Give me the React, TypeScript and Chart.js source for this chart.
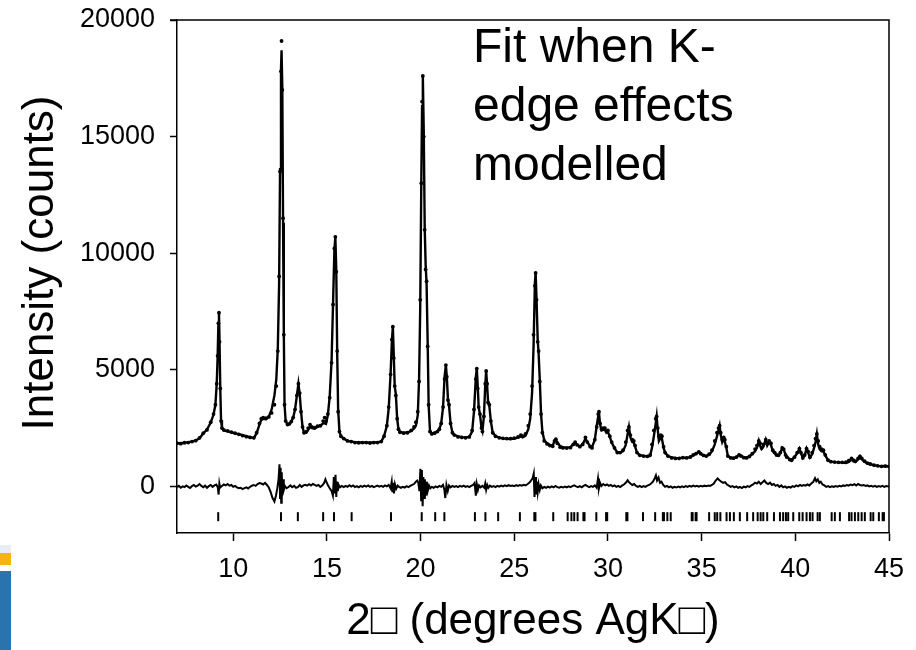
import React, { useEffect, useRef } from "react";
import { Chart, registerables } from "chart.js";

Chart.register(...registerables);

const xTicks = [10, 15, 20, 25, 30, 35, 40, 45];
const yTicks = [0, 5000, 10000, 15000, 20000];

const xTitle = "2□ (degrees AgK□)";
const yTitle = "Intensity (counts)";
const annotationLines = ["Fit when K-", "edge effects", "modelled"];

// observed intensities [2theta, counts]
const observedProfile: [number, number][] = [
  [7.0, 1850], [7.2, 1830], [7.4, 1870], [7.6, 1880], [7.8, 1920], [8.0, 1960], [8.2, 2080], [8.4, 2280],
  [8.6, 2420], [8.8, 2750], [8.95, 3100], [9.05, 3500], [9.12, 4400], [9.17, 5600], [9.21, 7000], [9.24, 7450],
  [9.27, 6200], [9.31, 4200], [9.35, 2800], [9.4, 2500], [9.5, 2420], [9.7, 2380], [9.9, 2330], [10.1, 2280],
  [10.3, 2230], [10.5, 2180], [10.7, 2130], [10.9, 2100], [11.1, 2080], [11.25, 2300], [11.4, 2700], [11.5, 2900],
  [11.6, 2950], [11.75, 2920], [11.9, 2980], [12.05, 3150], [12.2, 3500], [12.3, 4300], [12.38, 5800], [12.45, 9000],
  [12.5, 13500], [12.55, 17800], [12.58, 19100], [12.62, 17000], [12.66, 11500], [12.7, 6500], [12.74, 3500], [12.8, 2800],
  [12.9, 2650], [13.0, 2680], [13.1, 2780], [13.2, 2950], [13.3, 3300], [13.4, 3900], [13.48, 4400], [13.55, 4000],
  [13.62, 3200], [13.7, 2550], [13.78, 2300], [13.9, 2350], [14.0, 2500], [14.1, 2650], [14.2, 2550], [14.35, 2520],
  [14.5, 2580], [14.65, 2600], [14.8, 2800], [14.88, 2950], [14.95, 2800], [15.05, 3100], [15.15, 3800], [15.25, 5300],
  [15.33, 7800], [15.4, 10200], [15.45, 10700], [15.5, 9200], [15.55, 5800], [15.6, 3200], [15.67, 2350], [15.75, 2150],
  [15.9, 2050], [16.1, 1950], [16.3, 1920], [16.5, 1880], [16.7, 1870], [16.9, 1880], [17.1, 1880], [17.3, 1860],
  [17.5, 1880], [17.7, 1880], [17.9, 1920], [18.05, 2150], [18.2, 2600], [18.3, 3400], [18.4, 4800], [18.47, 6300],
  [18.52, 6850], [18.57, 5500], [18.62, 4300], [18.68, 3900], [18.75, 2900], [18.82, 2450], [18.9, 2320], [19.1, 2280],
  [19.3, 2300], [19.5, 2400], [19.65, 2550], [19.75, 2750], [19.85, 3200], [19.92, 4500], [19.98, 8000], [20.04, 13000],
  [20.08, 16500], [20.12, 17600], [20.17, 15000], [20.22, 11000], [20.27, 9300], [20.32, 8800], [20.38, 6000], [20.43, 3500],
  [20.5, 2350], [20.6, 2250], [20.75, 2280], [20.9, 2350], [21.0, 2450], [21.1, 2700], [21.2, 3400], [21.28, 4600],
  [21.35, 5200], [21.4, 4700], [21.46, 3700], [21.52, 3500], [21.6, 2700], [21.7, 2300], [21.8, 2200], [22.0, 2120],
  [22.2, 2100], [22.4, 2080], [22.6, 2120], [22.75, 2400], [22.85, 3300], [22.95, 4600], [23.0, 5050], [23.05, 4200],
  [23.1, 3400], [23.17, 3100], [23.25, 2500], [23.3, 2350], [23.38, 3000], [23.45, 4400], [23.5, 4950], [23.55, 4400],
  [23.6, 3600], [23.67, 3500], [23.75, 2800], [23.85, 2300], [24.0, 2150], [24.2, 2080], [24.4, 2060], [24.6, 2050],
  [24.8, 2050], [25.0, 2070], [25.2, 2120], [25.35, 2200], [25.45, 2150], [25.6, 2250], [25.75, 2600], [25.85, 3100],
  [25.95, 4300], [26.03, 6500], [26.1, 8600], [26.14, 9150], [26.19, 8000], [26.25, 6200], [26.3, 5800], [26.36, 4500],
  [26.43, 3100], [26.5, 2300], [26.6, 1950], [26.75, 1820], [26.9, 1750], [27.05, 1720], [27.15, 1950], [27.22, 2020],
  [27.3, 1850], [27.45, 1680], [27.6, 1650], [27.8, 1640], [28.0, 1660], [28.15, 1800], [28.25, 1900], [28.35, 1780],
  [28.5, 1700], [28.65, 1800], [28.8, 2100], [28.9, 1900], [29.05, 1700], [29.15, 1650], [29.3, 2000], [29.4, 2550],
  [29.48, 3100], [29.52, 3200], [29.58, 2700], [29.66, 2450], [29.75, 2500], [29.84, 2500], [29.92, 2350], [30.0, 2400],
  [30.1, 2150], [30.2, 1900], [30.35, 1650], [30.5, 1450], [30.65, 1450], [30.8, 1550], [30.95, 1900], [31.05, 2400],
  [31.12, 2550], [31.2, 2200], [31.3, 2000], [31.38, 1950], [31.45, 1750], [31.55, 1450], [31.7, 1330], [31.9, 1300],
  [32.1, 1290], [32.25, 1350], [32.35, 1800], [32.45, 2400], [32.55, 2900], [32.6, 3000], [32.66, 2500], [32.72, 2150],
  [32.82, 2200], [32.88, 2150], [32.97, 1700], [33.05, 1450], [33.2, 1300], [33.4, 1220], [33.6, 1200], [33.8, 1200],
  [34.0, 1230], [34.2, 1220], [34.4, 1260], [34.55, 1350], [34.7, 1400], [34.85, 1480], [34.95, 1400], [35.1, 1330],
  [35.25, 1300], [35.4, 1380], [35.55, 1550], [35.7, 1950], [35.82, 2300], [35.9, 2500], [35.96, 2600], [36.02, 2300],
  [36.1, 2000], [36.18, 2100], [36.24, 2000], [36.32, 1700], [36.4, 1300], [36.55, 1220], [36.7, 1210], [36.85, 1250],
  [37.0, 1350], [37.1, 1300], [37.25, 1230], [37.4, 1220], [37.55, 1280], [37.7, 1400], [37.85, 1600], [37.95, 1750],
  [38.05, 1950], [38.12, 1850], [38.2, 1650], [38.3, 1800], [38.42, 2000], [38.5, 1850], [38.6, 1950], [38.7, 1850],
  [38.8, 1550], [38.9, 1450], [39.0, 1350], [39.1, 1330], [39.2, 1450], [39.3, 1650], [39.38, 1600], [39.48, 1350],
  [39.55, 1250], [39.7, 1150], [39.8, 1120], [39.95, 1250], [40.1, 1450], [40.22, 1620], [40.3, 1450], [40.4, 1220],
  [40.5, 1350], [40.6, 1620], [40.68, 1500], [40.78, 1250], [40.9, 1450], [41.0, 1750], [41.08, 2050], [41.15, 2250],
  [41.22, 1950], [41.3, 1700], [41.4, 1600], [41.5, 1550], [41.6, 1350], [41.75, 1120], [41.9, 1060], [42.1, 1040],
  [42.3, 1030], [42.5, 1030], [42.7, 1040], [42.85, 1100], [43.0, 1200], [43.1, 1120], [43.2, 1080], [43.35, 1200],
  [43.45, 1290], [43.55, 1200], [43.7, 1080], [43.85, 1000], [44.0, 960], [44.2, 910], [44.4, 880], [44.6, 860],
  [44.8, 870], [45.0, 850],
];

// calculated (fitted) profile [2theta, counts]
const calculatedProfile: [number, number][] = [
  [7.0, 1850], [7.2, 1850], [7.4, 1870], [7.6, 1890], [7.8, 1920], [8.0, 1970], [8.2, 2060], [8.4, 2270],
  [8.6, 2440], [8.8, 2740], [8.95, 3080], [9.05, 3500], [9.12, 4400], [9.17, 5600], [9.21, 7000], [9.24, 7450],
  [9.27, 6200], [9.31, 4200], [9.35, 2850], [9.4, 2500], [9.5, 2400], [9.7, 2360], [9.9, 2320], [10.1, 2270],
  [10.3, 2240], [10.5, 2200], [10.7, 2150], [10.9, 2110], [11.1, 2070], [11.25, 2280], [11.4, 2650], [11.5, 2850],
  [11.6, 2900], [11.75, 2880], [11.9, 2990], [12.05, 3300], [12.2, 3900], [12.3, 4600], [12.38, 5900], [12.45, 8700],
  [12.5, 13600], [12.55, 17900], [12.58, 18700], [12.62, 17100], [12.66, 11300], [12.7, 6600], [12.74, 3500], [12.8, 2800],
  [12.9, 2650], [13.0, 2680], [13.1, 2780], [13.2, 2950], [13.3, 3300], [13.4, 3900], [13.48, 4400], [13.55, 3950],
  [13.62, 3200], [13.7, 2550], [13.78, 2300], [13.9, 2300], [14.0, 2420], [14.1, 2560], [14.2, 2500], [14.35, 2470],
  [14.5, 2560], [14.65, 2600], [14.8, 2700], [14.88, 2700], [14.95, 2680], [15.05, 3050], [15.15, 3850], [15.25, 5400],
  [15.33, 7900], [15.4, 10100], [15.45, 10700], [15.5, 9300], [15.55, 5700], [15.6, 3300], [15.67, 2350], [15.75, 2150],
  [15.9, 2050], [16.1, 1950], [16.3, 1920], [16.5, 1890], [16.7, 1880], [16.9, 1880], [17.1, 1880], [17.3, 1870],
  [17.5, 1880], [17.7, 1890], [17.9, 1920], [18.05, 2150], [18.2, 2600], [18.3, 3350], [18.4, 4850], [18.47, 6250],
  [18.52, 6850], [18.57, 5600], [18.62, 4300], [18.68, 3950], [18.75, 2900], [18.82, 2450], [18.9, 2340], [19.1, 2300],
  [19.3, 2310], [19.5, 2380], [19.65, 2480], [19.75, 2600], [19.85, 3050], [19.92, 4600], [19.98, 7600], [20.04, 13200],
  [20.08, 16300], [20.12, 17600], [20.17, 15200], [20.22, 11100], [20.27, 9500], [20.32, 8700], [20.38, 6100], [20.43, 3500],
  [20.5, 2400], [20.6, 2250], [20.75, 2300], [20.9, 2360], [21.0, 2450], [21.1, 2700], [21.2, 3400], [21.28, 4700],
  [21.35, 5200], [21.4, 4700], [21.46, 3750], [21.52, 3450], [21.6, 2700], [21.7, 2300], [21.8, 2210], [22.0, 2140],
  [22.2, 2110], [22.4, 2100], [22.6, 2120], [22.75, 2350], [22.85, 3200], [22.95, 4700], [23.0, 5050], [23.05, 4300],
  [23.1, 3400], [23.17, 3080], [23.25, 2520], [23.3, 2380], [23.38, 3000], [23.45, 4300], [23.5, 4950], [23.55, 4350],
  [23.6, 3650], [23.67, 3450], [23.75, 2800], [23.85, 2300], [24.0, 2160], [24.2, 2090], [24.4, 2060], [24.6, 2040],
  [24.8, 2030], [25.0, 2050], [25.2, 2090], [25.35, 2140], [25.45, 2100], [25.6, 2170], [25.75, 2450], [25.85, 2900],
  [25.95, 4000], [26.03, 6000], [26.1, 8700], [26.14, 9150], [26.19, 8000], [26.25, 6300], [26.3, 5700], [26.36, 4600],
  [26.43, 3100], [26.5, 2350], [26.6, 1980], [26.75, 1850], [26.9, 1780], [27.05, 1740], [27.15, 1950], [27.22, 2000],
  [27.3, 1880], [27.45, 1720], [27.6, 1680], [27.8, 1660], [28.0, 1680], [28.15, 1800], [28.25, 1880], [28.35, 1790],
  [28.5, 1710], [28.65, 1800], [28.8, 2050], [28.9, 1900], [29.05, 1720], [29.15, 1680], [29.3, 2000], [29.4, 2600],
  [29.48, 3000], [29.52, 3200], [29.58, 2650], [29.66, 2400], [29.75, 2420], [29.84, 2450], [29.92, 2300], [30.0, 2340],
  [30.1, 2120], [30.2, 1880], [30.35, 1640], [30.5, 1460], [30.65, 1460], [30.8, 1500], [30.95, 1780], [31.05, 2250],
  [31.12, 2550], [31.2, 2100], [31.3, 1900], [31.38, 1880], [31.45, 1700], [31.55, 1450], [31.7, 1340], [31.9, 1310],
  [32.1, 1280], [32.25, 1300], [32.35, 1650], [32.45, 2150], [32.55, 2700], [32.6, 3000], [32.66, 2400], [32.72, 1950],
  [32.82, 2100], [32.88, 2050], [32.97, 1650], [33.05, 1450], [33.2, 1300], [33.4, 1240], [33.6, 1220], [33.8, 1210],
  [34.0, 1230], [34.2, 1220], [34.4, 1250], [34.55, 1330], [34.7, 1400], [34.85, 1480], [34.95, 1400], [35.1, 1320],
  [35.25, 1290], [35.4, 1350], [35.55, 1500], [35.7, 1800], [35.82, 2150], [35.9, 2400], [35.96, 2600], [36.02, 2200],
  [36.1, 1900], [36.18, 2050], [36.24, 1900], [36.32, 1650], [36.4, 1300], [36.55, 1230], [36.7, 1210], [36.85, 1250],
  [37.0, 1360], [37.1, 1320], [37.25, 1250], [37.4, 1230], [37.55, 1290], [37.7, 1380], [37.85, 1500], [37.95, 1650],
  [38.05, 1950], [38.12, 1750], [38.2, 1600], [38.3, 1700], [38.42, 2000], [38.5, 1750], [38.6, 1900], [38.7, 1780],
  [38.8, 1500], [38.9, 1420], [39.0, 1320], [39.1, 1330], [39.2, 1420], [39.3, 1650], [39.38, 1580], [39.48, 1360],
  [39.55, 1270], [39.7, 1170], [39.8, 1130], [39.95, 1240], [40.1, 1420], [40.22, 1620], [40.3, 1430], [40.4, 1220],
  [40.5, 1320], [40.6, 1620], [40.68, 1460], [40.78, 1240], [40.9, 1380], [41.0, 1650], [41.08, 1900], [41.15, 2250],
  [41.22, 1800], [41.3, 1600], [41.4, 1500], [41.5, 1500], [41.6, 1330], [41.75, 1120], [41.9, 1060], [42.1, 1040],
  [42.3, 1030], [42.5, 1020], [42.7, 1000], [42.85, 1050], [43.0, 1150], [43.1, 1080], [43.2, 1040], [43.35, 1150],
  [43.45, 1290], [43.55, 1160], [43.7, 1050], [43.85, 980], [44.0, 950], [44.2, 910], [44.4, 880], [44.6, 860],
  [44.8, 870], [45.0, 860],
];

// observed minus calculated [2theta, counts]
const differenceProfile: [number, number][] = [
  [7.0, -40], [7.1, 20], [7.2, -60], [7.3, 0], [7.4, -30], [7.5, 40], [7.6, -20], [7.7, -70], [7.8, 10], [7.9, 60],
  [8.0, -10], [8.1, 30], [8.2, 100], [8.3, 20], [8.4, -40], [8.5, 30], [8.6, -60], [8.7, 10], [8.8, 60], [8.9, -20],
  [9.0, 40], [9.1, 80], [9.18, -50], [9.22, -350], [9.26, 120], [9.3, -60], [9.4, 20], [9.5, 80], [9.6, 40], [9.7, 100],
  [9.8, 30], [9.9, 60], [10.0, -20], [10.1, 20], [10.2, -40], [10.3, -80], [10.4, -60], [10.5, -120], [10.6, -80], [10.7, -40],
  [10.8, -90], [10.9, -20], [11.0, 30], [11.1, 60], [11.2, 20], [11.3, 100], [11.4, 140], [11.5, 120], [11.6, 80], [11.7, 150],
  [11.8, 60], [11.9, -50], [12.0, -250], [12.1, -500], [12.2, -650], [12.28, -400], [12.35, -100], [12.42, 300], [12.47, 950], [12.5, -500],
  [12.53, 800], [12.56, -700], [12.59, 600], [12.62, -300], [12.66, 300], [12.7, -150], [12.76, 20], [12.85, -80], [12.95, -30], [13.05, 40],
  [13.15, -40], [13.25, 20], [13.35, -60], [13.45, -30], [13.55, 60], [13.65, -20], [13.75, 40], [13.85, 70], [13.95, 30], [14.05, 90],
  [14.15, 40], [14.25, 100], [14.35, 60], [14.45, 20], [14.55, 60], [14.65, -20], [14.75, 40], [14.85, 140], [14.92, 300], [14.98, 180],
  [15.05, 60], [15.15, -80], [15.25, -200], [15.32, -400], [15.37, 400], [15.42, -300], [15.46, 500], [15.5, -450], [15.54, 200], [15.58, -200],
  [15.63, 60], [15.7, -40], [15.8, 20], [15.9, -30], [16.0, 20], [16.1, -20], [16.2, 50], [16.3, -10], [16.4, 40], [16.5, -30],
  [16.6, 10], [16.7, -40], [16.8, 20], [16.9, -20], [17.0, 30], [17.1, -10], [17.2, 40], [17.3, -20], [17.4, 20], [17.5, -30],
  [17.6, 0], [17.7, 30], [17.8, -10], [17.9, 20], [18.0, -20], [18.1, 40], [18.2, 0], [18.3, 60], [18.4, -80], [18.46, 200],
  [18.5, -250], [18.54, 150], [18.58, -300], [18.63, 100], [18.7, -100], [18.78, 30], [18.85, -20], [18.95, -60], [19.05, -20], [19.15, -50],
  [19.25, 10], [19.35, -30], [19.45, 20], [19.55, 60], [19.65, 100], [19.75, 200], [19.82, 250], [19.88, 150], [19.94, -200], [19.99, 750],
  [20.03, -600], [20.07, 700], [20.11, -850], [20.15, 400], [20.19, -500], [20.23, 300], [20.28, -400], [20.33, 200], [20.38, -200], [20.45, 40],
  [20.52, -80], [20.6, -20], [20.7, -60], [20.8, 0], [20.9, -40], [21.0, 20], [21.1, -20], [21.2, 60], [21.27, -150], [21.32, -500],
  [21.38, 60], [21.45, -200], [21.52, 40], [21.6, -40], [21.7, 20], [21.8, -20], [21.9, 10], [22.0, -30], [22.1, 20], [22.2, -10],
  [22.3, 30], [22.4, -20], [22.5, 10], [22.6, -30], [22.7, 20], [22.8, 60], [22.88, 150], [22.95, -400], [23.0, 100], [23.06, -150],
  [23.12, 40], [23.2, -40], [23.3, 20], [23.4, -60], [23.45, 120], [23.5, -150], [23.56, 60], [23.62, -60], [23.7, 30], [23.8, -20],
  [23.9, 10], [24.0, -30], [24.1, 20], [24.2, -10], [24.3, 30], [24.4, 0], [24.5, 40], [24.6, 10], [24.7, 50], [24.8, 20],
  [24.9, 40], [25.0, 10], [25.1, 50], [25.2, 20], [25.3, 60], [25.4, 30], [25.5, 70], [25.6, 40], [25.7, 90], [25.8, 150],
  [25.9, 250], [25.98, 350], [26.04, 550], [26.08, -450], [26.12, 400], [26.16, -350], [26.2, 200], [26.25, -250], [26.3, 100], [26.36, -150],
  [26.42, 40], [26.5, -80], [26.6, -20], [26.7, -60], [26.8, -10], [26.9, -50], [27.0, 0], [27.1, -40], [27.2, 20], [27.3, -30],
  [27.4, -60], [27.5, -20], [27.6, -50], [27.7, -10], [27.8, -40], [27.9, 0], [28.0, -30], [28.1, 10], [28.2, 40], [28.3, 0],
  [28.4, -30], [28.5, 10], [28.6, -40], [28.7, 20], [28.8, 60], [28.9, 10], [29.0, -30], [29.1, 10], [29.2, -20], [29.3, 40],
  [29.4, -60], [29.47, 340], [29.52, -80], [29.58, 150], [29.65, 20], [29.75, 100], [29.85, 40], [29.95, 80], [30.05, 20], [30.15, 60],
  [30.25, 0], [30.35, 40], [30.45, -20], [30.55, 20], [30.65, -30], [30.75, 30], [30.85, 80], [30.95, 150], [31.05, 260], [31.12, 180],
  [31.2, 120], [31.3, 60], [31.4, 100], [31.5, 20], [31.6, -20], [31.7, 20], [31.8, -30], [31.9, 10], [32.0, -20], [32.1, 30],
  [32.2, 60], [32.3, 120], [32.4, 200], [32.5, 350], [32.56, 470], [32.62, 250], [32.7, 380], [32.78, 150], [32.86, 200], [32.95, 60],
  [33.05, -20], [33.15, 20], [33.25, -40], [33.35, 0], [33.45, -60], [33.55, -20], [33.65, -50], [33.75, -10], [33.85, -40], [33.95, 0],
  [34.05, -30], [34.15, 10], [34.25, -20], [34.35, 20], [34.45, -10], [34.55, 30], [34.65, 0], [34.75, 20], [34.85, -10], [34.95, 20],
  [35.05, 0], [35.15, 30], [35.25, 10], [35.35, 40], [35.45, 20], [35.55, 60], [35.65, 120], [35.75, 250], [35.85, 340], [35.95, 260],
  [36.05, 200], [36.15, 150], [36.25, 180], [36.35, 80], [36.45, 30], [36.55, -20], [36.65, 10], [36.75, -40], [36.85, 0], [36.95, -60],
  [37.05, -20], [37.15, -70], [37.25, -10], [37.35, -40], [37.45, 10], [37.55, -20], [37.65, 40], [37.75, 80], [37.85, 160], [37.95, 120],
  [38.05, 200], [38.15, 100], [38.25, 180], [38.35, 250], [38.45, 150], [38.55, 100], [38.65, 160], [38.75, 60], [38.85, 100], [38.95, 20],
  [39.05, 60], [39.15, -20], [39.25, 40], [39.35, -40], [39.45, 0], [39.55, -60], [39.65, -20], [39.75, -50], [39.85, 10], [39.95, -20],
  [40.05, 40], [40.15, 0], [40.25, 60], [40.35, 20], [40.45, 60], [40.55, 30], [40.65, 80], [40.75, 40], [40.85, 120], [40.95, 180],
  [41.05, 350], [41.12, 220], [41.2, 300], [41.28, 150], [41.36, 200], [41.45, 80], [41.55, 40], [41.65, -20], [41.75, 10], [41.85, -30],
  [41.95, 0], [42.05, -20], [42.15, 10], [42.25, -10], [42.35, 20], [42.45, 0], [42.55, 40], [42.65, 20], [42.75, 60], [42.85, 30],
  [42.95, 80], [43.05, 50], [43.15, 90], [43.25, 40], [43.35, 100], [43.45, 60], [43.55, 40], [43.65, 60], [43.75, 20], [43.85, 40],
  [43.95, 0], [44.05, 20], [44.15, -10], [44.25, 20], [44.35, -20], [44.45, 10], [44.55, -10], [44.65, 20], [44.75, -20], [44.85, 10],
  [45.0, -10],
];

// Bragg reflection positions (2theta)
const reflectionPositions = [
  9.2, 12.55, 13.45, 14.8, 15.38, 16.32, 18.42, 20.06, 20.78, 21.27, 22.9, 23.46, 24.14, 25.3, 26.07, 26.13,
  27.08, 27.85, 28.05, 28.2, 28.38, 28.69, 28.75, 29.38, 29.9, 29.96, 30.98, 31.04, 31.87, 32.52, 32.93, 32.99,
  33.17, 33.35, 34.47, 34.52, 34.68, 34.73, 35.4, 35.7, 35.83, 36.0, 36.33, 36.51, 36.72, 37.04, 37.43, 37.75,
  37.99, 38.15, 38.29, 38.5, 38.86, 39.18, 39.35, 39.5, 39.62, 39.89, 40.21, 40.39, 40.6, 40.78, 40.92, 41.19,
  41.31, 41.94, 42.11, 42.38, 42.87, 43.0, 43.18, 43.36, 43.54, 43.71, 44.02, 44.16, 44.46, 44.66, 44.73,
];
const reflectionLevel = -1300;

const FONT = "'Liberation Sans', Arial, Helvetica, sans-serif";

const textPlugin = {
  id: "frameAndText",
  afterDatasetsDraw(chart: any) {
    const { ctx, chartArea } = chart;
    const { left, right, top, bottom } = chartArea;
    ctx.save();
    ctx.strokeStyle = "#000";
    ctx.lineWidth = 1.5;
    ctx.beginPath();
    ctx.moveTo(left - 7, top);
    ctx.lineTo(right, top);
    ctx.lineTo(right, bottom);
    ctx.stroke();

    ctx.fillStyle = "#000";
    ctx.font = `48px ${FONT}`;
    ctx.textAlign = "left";
    ctx.textBaseline = "alphabetic";
    annotationLines.forEach((line, i) => {
      ctx.fillText(line, 473, 62 + i * 59);
    });

    ctx.translate(53, 263);
    ctx.rotate(-Math.PI / 2);
    ctx.font = `44px ${FONT}`;
    ctx.textAlign = "center";
    ctx.textBaseline = "alphabetic";
    ctx.fillText(yTitle, 0, 0);
    ctx.restore();
  },
};

export default function App() {
  const canvasRef = useRef<HTMLCanvasElement | null>(null);

  useEffect(() => {
    if (!canvasRef.current) return;
    const chart = new Chart(canvasRef.current, {
      type: "scatter",
      data: {
        datasets: [
          {
            label: "Reflections",
            data: reflectionPositions.map((x) => ({ x, y: reflectionLevel })),
            showLine: false,
            pointStyle: "line",
            rotation: 90,
            pointRadius: 4.5,
            borderWidth: 2,
            borderColor: "#000",
            backgroundColor: "#000",
          },
          {
            label: "Difference",
            data: differenceProfile.map(([x, y]) => ({ x, y })),
            showLine: true,
            borderColor: "#000",
            borderWidth: 2,
            pointRadius: 0,
            tension: 0,
          },
          {
            label: "Calculated",
            data: calculatedProfile.map(([x, y]) => ({ x, y })),
            showLine: true,
            borderColor: "#000",
            borderWidth: 2.4,
            pointRadius: 0,
            tension: 0,
          },
          {
            label: "Observed",
            data: observedProfile.map(([x, y]) => ({ x, y })),
            showLine: false,
            pointRadius: 1.9,
            pointBorderWidth: 0,
            pointBackgroundColor: "#000",
            backgroundColor: "#000",
          },
        ],
      },
      options: {
        animation: false,
        responsive: false,
        maintainAspectRatio: false,
        layout: { padding: { left: 0, right: 27, top: 20, bottom: 0 } },
        plugins: { legend: { display: false }, tooltip: { enabled: false } },
        scales: {
          x: {
            type: "linear",
            min: 7,
            max: 45,
            afterBuildTicks: (s: any) => {
              s.ticks = xTicks.map((v) => ({ value: v }));
            },
            afterFit: (s: any) => {
              s.height = 117;
              s.paddingLeft = 0;
              s.paddingRight = 0;
            },
            ticks: {
              autoSkip: false,
              maxRotation: 0,
              color: "#000",
              padding: 12,
              font: { family: FONT, size: 27 },
              callback: (v: any) => String(v),
            },
            grid: {
              display: true,
              drawOnChartArea: false,
              drawTicks: true,
              tickLength: 8,
              tickColor: "#000",
              tickWidth: 1.5,
            },
            border: { display: true, color: "#000", width: 1.5 },
            title: {
              display: true,
              text: xTitle,
              color: "#000",
              font: { family: FONT, size: 44 },
              padding: { top: 0, bottom: 2 },
            },
          },
          y: {
            type: "linear",
            min: -2000,
            max: 20000,
            afterBuildTicks: (s: any) => {
              s.ticks = yTicks.map((v) => ({ value: v }));
            },
            afterFit: (s: any) => {
              s.width = 177;
              s.paddingTop = 0;
              s.paddingBottom = 0;
            },
            ticks: {
              autoSkip: false,
              color: "#000",
              padding: 15,
              font: { family: FONT, size: 27 },
              callback: (v: any) => String(v),
            },
            grid: {
              display: true,
              drawOnChartArea: false,
              drawTicks: true,
              tickLength: 7,
              tickColor: "#000",
              tickWidth: 1.5,
            },
            border: { display: true, color: "#000", width: 1.5 },
            title: { display: false },
          },
        },
      },
      plugins: [textPlugin],
    });
    return () => chart.destroy();
  }, []);

  return (
    <div style={{ position: "fixed", left: 0, top: 0, width: 916, height: 650, background: "#fff", overflow: "hidden" }}>
      <canvas ref={canvasRef} width={916} height={650} style={{ display: "block", width: 916, height: 650 }} />
      <div style={{ position: "absolute", left: 0, top: 545, width: 11, height: 8, background: "#e8eef4" }} />
      <div style={{ position: "absolute", left: 0, top: 553, width: 11, height: 12, background: "#f6b40e" }} />
      <div style={{ position: "absolute", left: 0, top: 571, width: 11, height: 79, background: "#2a74ad" }} />
    </div>
  );
}
